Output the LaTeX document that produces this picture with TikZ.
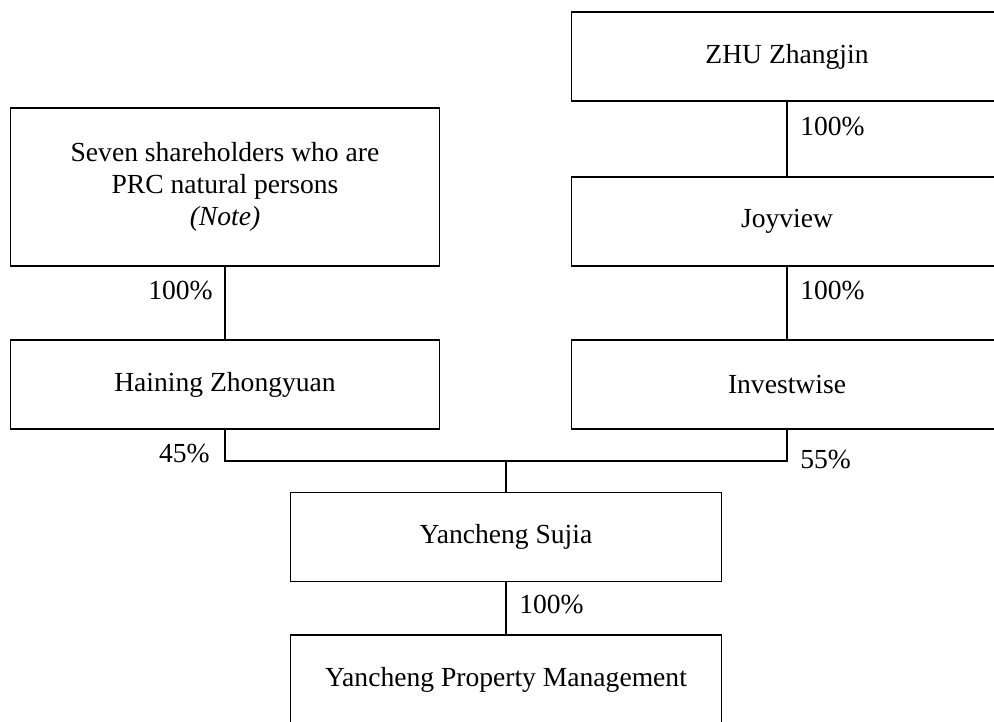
\documentclass[tikz,border=0pt]{standalone}
\usepackage{fontspec}
\setmainfont{Liberation Serif}
\usetikzlibrary{positioning}

\begin{document}
\begin{tikzpicture}[x=0.02cm,y=-0.02cm,
  entity/.style={draw, line width=0.6pt, minimum width=8.64cm, minimum height=1.78cm,
    align=center, inner sep=0pt, font=\fontsize{15.7}{18.2}\selectfont},
  share/.style={inner sep=0pt, font=\fontsize{15.7}{18.2}\selectfont},
  link/.style={line width=0.6pt}]
\useasboundingbox (0,0) rectangle (994,721);
\clip (0,0) rectangle (994,721);

% holders
\node[entity, minimum width=8.6cm, minimum height=3.16cm] (seven) at (225,187)
  {Seven shareholders who are\\PRC natural persons\\\textit{(Note)}};
\node[entity] (zhu) at (787,56.5) {ZHU Zhangjin};
\node[entity] (joyview) at (787,221.5) {Joyview};

% intermediate companies
\node[entity, minimum width=8.6cm] (haining) at (225,384.5) {Haining Zhongyuan};
\node[entity] (investwise) at (787,384.5) {Investwise};

% group companies
\node[entity] (sujia) at (506,537) {Yancheng Sujia};
\node[entity, minimum height=1.8cm] (pm) at (506,680) {Yancheng Property Management};

\coordinate (join) at (506,461);

\draw[link] (seven) -- (haining);
\draw[link] (zhu) -- (joyview);
\draw[link] (joyview) -- (investwise);
\draw[link] (haining.south) -- (haining.south |- join) -- (investwise.south |- join) -- (investwise.south);
\draw[link] (join) -- (sujia.north);
\draw[link] (sujia) -- (pm);

\node[share, anchor=east] (p_seven) at (213,291) {100\%};
\node[share, anchor=west] (p_zhu) at (800,127) {100\%};
\node[share, anchor=west] (p_joy) at (800,291) {100\%};
\node[share, anchor=east] (p_hain) at (210,453) {45\%};
\node[share, anchor=west] (p_inv) at (800,459) {55\%};
\node[share, anchor=west] (p_sujia) at (519,604) {100\%};
\end{tikzpicture}
\end{document}
